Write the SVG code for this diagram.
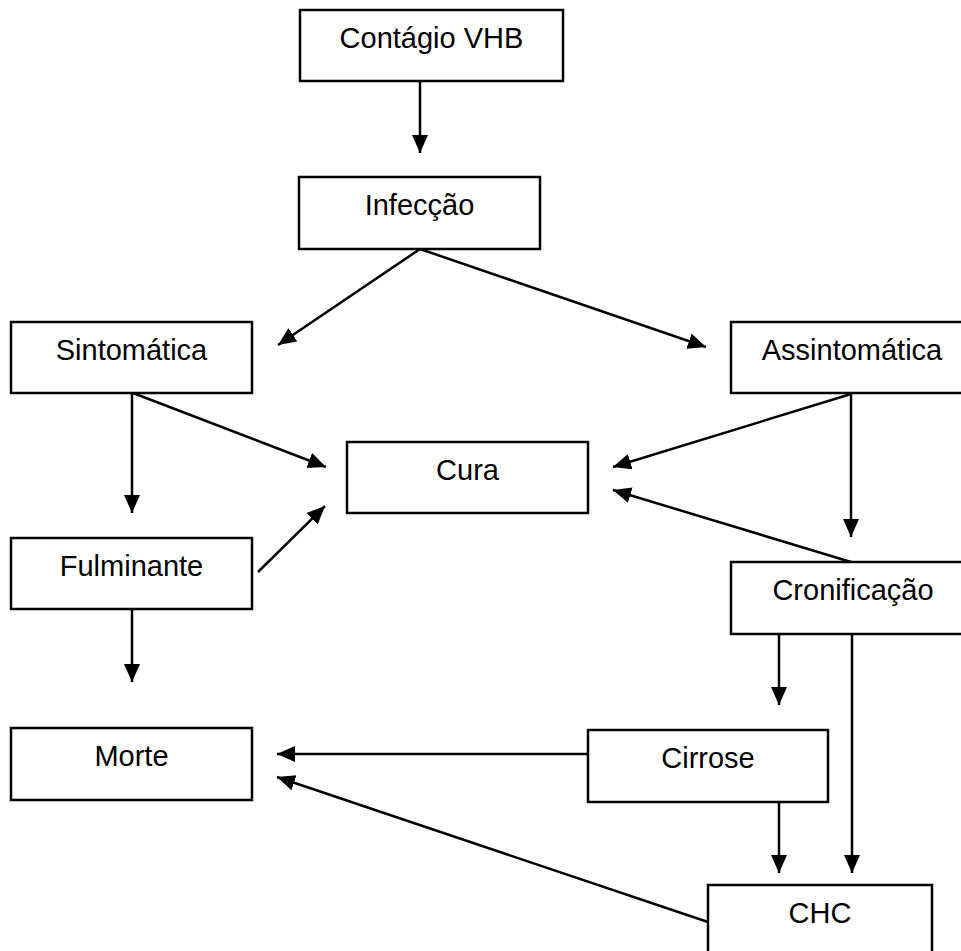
<svg xmlns="http://www.w3.org/2000/svg" width="961" height="951" viewBox="0 0 961 951">
<style>
  .box { fill: #ffffff; stroke: #000000; stroke-width: 2.5; }
  .lbl { font-family: "Liberation Sans", Arial, sans-serif; font-size: 29px; fill: #000000; text-anchor: middle; }
  .edge { stroke: #000000; stroke-width: 2.5; fill: none; marker-end: url(#arrow); }
</style>
<defs>
  <marker id="arrow" markerUnits="userSpaceOnUse" markerWidth="19" markerHeight="17" refX="18" refY="8" orient="auto">
    <path d="M0,0 L18,8 L0,16 z" fill="#000000"/>
  </marker>
</defs>
<rect width="961" height="951" fill="#ffffff"/>
<g id="n-contagio"><rect class="box" x="300" y="10" width="263" height="71"/><text class="lbl" x="431.5" y="48">Contágio VHB</text></g>
<g id="n-infeccao"><rect class="box" x="299" y="177" width="241" height="72"/><text class="lbl" x="419.5" y="215">Infecção</text></g>
<g id="n-sintomatica"><rect class="box" x="11" y="322" width="241" height="71"/><text class="lbl" x="131.5" y="360">Sintomática</text></g>
<g id="n-assintomatica"><rect class="box" x="731" y="322" width="242" height="71"/><text class="lbl" x="852" y="360">Assintomática</text></g>
<g id="n-cura"><rect class="box" x="347" y="442" width="241" height="71"/><text class="lbl" x="467.5" y="480">Cura</text></g>
<g id="n-fulminante"><rect class="box" x="11" y="538" width="241" height="71"/><text class="lbl" x="131.5" y="576">Fulminante</text></g>
<g id="n-cronificacao"><rect class="box" x="731" y="562" width="244" height="72"/><text class="lbl" x="853" y="600">Cronificação</text></g>
<g id="n-morte"><rect class="box" x="11" y="728" width="241" height="72"/><text class="lbl" x="131.5" y="766">Morte</text></g>
<g id="n-cirrose"><rect class="box" x="588" y="730" width="240" height="72"/><text class="lbl" x="708" y="768">Cirrose</text></g>
<g id="n-chc"><rect class="box" x="708" y="885" width="224" height="72"/><text class="lbl" x="820" y="923">CHC</text></g>
<g id="connectors">
  <line class="edge" x1="420" y1="81" x2="420" y2="153"/>
  <line class="edge" x1="420" y1="249" x2="278" y2="345"/>
  <line class="edge" x1="420" y1="249" x2="706" y2="347"/>
  <line class="edge" x1="132" y1="393" x2="132" y2="513"/>
  <line class="edge" x1="133" y1="393" x2="326" y2="467"/>
  <line class="edge" x1="258" y1="572" x2="325" y2="506"/>
  <line class="edge" x1="851" y1="393" x2="851" y2="537"/>
  <line class="edge" x1="851" y1="394" x2="613" y2="467"/>
  <line class="edge" x1="851" y1="562" x2="613" y2="490"/>
  <line class="edge" x1="779" y1="634" x2="779" y2="705"/>
  <line class="edge" x1="852" y1="634" x2="852" y2="873"/>
  <line class="edge" x1="132" y1="609" x2="132" y2="682"/>
  <line class="edge" x1="588" y1="754" x2="277" y2="754"/>
  <line class="edge" x1="779" y1="802" x2="779" y2="873"/>
  <line class="edge" x1="708" y1="922" x2="277" y2="777"/>
</g>
</svg>
